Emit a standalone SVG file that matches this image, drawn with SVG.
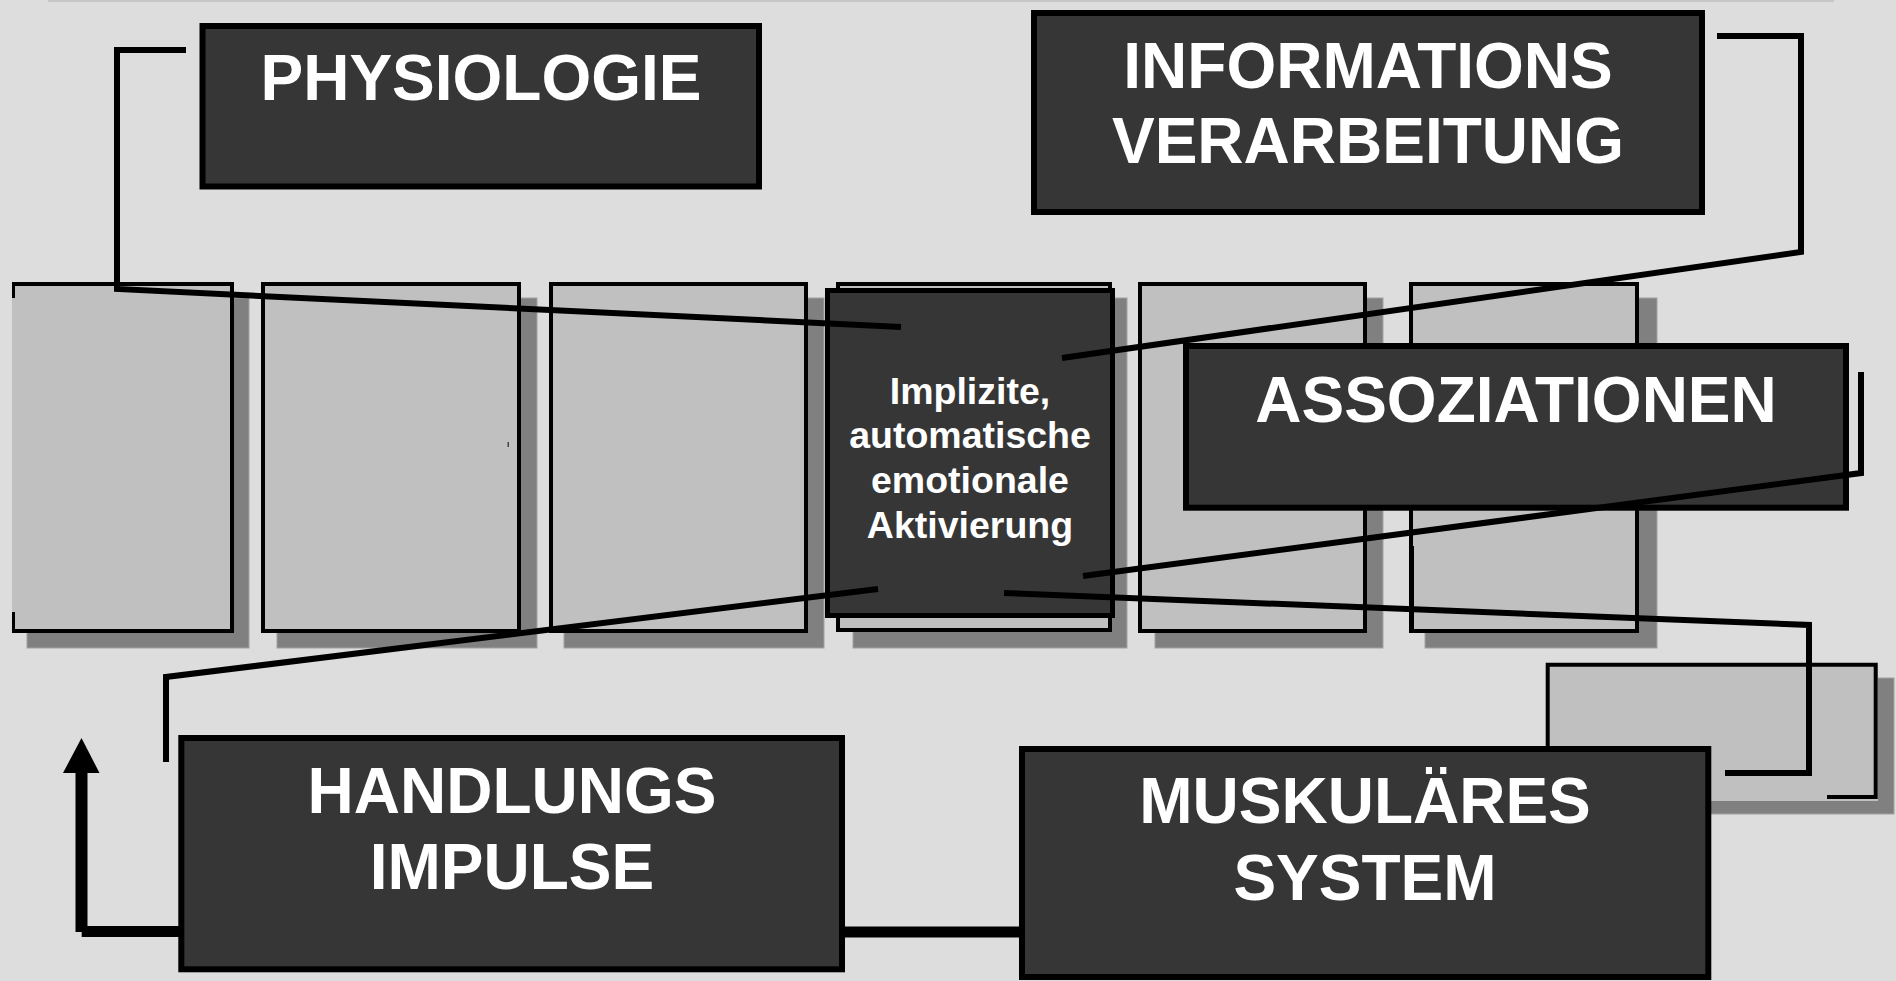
<svg xmlns="http://www.w3.org/2000/svg" width="1896" height="981" viewBox="0 0 1896 981">
<style>
.shadow{fill:#808080;stroke:#a2a2a2;stroke-width:1}
.col{fill:#c0c0c0;stroke:#000;stroke-width:4}
.box{fill:#363636;stroke:#000;stroke-width:6}
.lbl{font-family:"Liberation Sans",Arial,sans-serif;font-weight:bold;fill:#fff;text-anchor:middle}
.big{font-size:64px}
.small{font-size:37.5px}
.conn{fill:none;stroke:#000;stroke-width:6;stroke-linejoin:miter;stroke-linecap:butt}
.thick{fill:none;stroke:#000;stroke-linecap:butt}
</style>
<rect x="0" y="0" width="1896" height="981" fill="#dddddd"/>
<rect x="48" y="0" width="1786" height="2" fill="#c6c6c6"/>

<g id="columns">
  <rect class="shadow" x="27" y="298" width="222" height="350"/>
  <rect class="shadow" x="277" y="298" width="260" height="350"/>
  <rect class="shadow" x="564" y="298" width="260" height="350"/>
  <rect class="shadow" x="853" y="298" width="274" height="350"/>
  <rect class="shadow" x="1155" y="298" width="228" height="350"/>
  <rect class="shadow" x="1425" y="298" width="232" height="350"/>
  <g id="col1">
    <rect x="12" y="282" width="222" height="351" fill="#c0c0c0"/>
    <path d="M12,284 H232 V631 H12" fill="none" stroke="#000" stroke-width="4"/>
    <path d="M13.5,282 V298 M13.5,612 V633" fill="none" stroke="#000" stroke-width="3"/>
  </g>
  <g id="col2">
    <rect class="col" x="263" y="284" width="256" height="347"/>
    <rect x="507.5" y="442" width="1.5" height="5" fill="#444"/>
  </g>
  <rect id="col3" class="col" x="551" y="284" width="255" height="347"/>
  <rect id="col4" class="col" x="838" y="284" width="272" height="346"/>
  <rect id="col5" class="col" x="1140" y="284" width="225" height="347"/>
  <g id="col6">
    <rect class="col" x="1411" y="284" width="226" height="347"/>
    <path d="M1412.5,546 V633" stroke="#000" stroke-width="3"/>
  </g>
</g>

<g id="aktivierung">
  <rect x="827.5" y="290.5" width="285" height="325" fill="#363636" stroke="#000" stroke-width="5"/>
  <text class="lbl small" x="970" y="404">Implizite,</text>
  <text class="lbl small" x="970" y="448">automatische</text>
  <text class="lbl small" x="970" y="493">emotionale</text>
  <text class="lbl small" x="970" y="538">Aktivierung</text>
</g>

<g id="physiologie">
  <rect class="box" x="202.5" y="26" width="556.5" height="160.5"/>
  <text class="lbl big" x="481" y="100">PHYSIOLOGIE</text>
</g>

<g id="informationsverarbeitung">
  <rect class="box" x="1034" y="13" width="668" height="199"/>
  <text class="lbl big" x="1368" y="88">INFORMATIONS</text>
  <text class="lbl big" x="1368" y="163">VERARBEITUNG</text>
</g>

<g id="assoziationen">
  <rect class="box" x="1186" y="346" width="660" height="161.7"/>
  <text class="lbl big" x="1516" y="422">ASSOZIATIONEN</text>
</g>

<g id="lightbox">
  <rect class="shadow" x="1562" y="678" width="332" height="136"/>
  <rect x="1546" y="663" width="332" height="138" fill="#c0c0c0"/>
  <path d="M1547.7,760 V664.7 H1875.7 V797 H1827" fill="none" stroke="#000" stroke-width="4"/>
</g>

<g id="muskulaeres">
  <rect class="box" x="1022" y="749" width="686.3" height="228"/>
  <text class="lbl big" x="1365" y="823">MUSKULÄRES</text>
  <text class="lbl big" x="1365" y="900">SYSTEM</text>
</g>

<g id="handlungsimpulse">
  <rect class="box" x="181.3" y="738" width="660.7" height="231.3"/>
  <text class="lbl big" x="512" y="813">HANDLUNGS</text>
  <text class="lbl big" x="512" y="889">IMPULSE</text>
</g>

<g id="connectors">
  <path class="conn" d="M186,50 H117 V289 L901,327"/>
  <path class="conn" d="M1717,36 H1801 V252 L1062,358"/>
  <path class="conn" d="M1861,372 V473 L1083,576"/>
  <path class="conn" d="M878,589 L166,677 V762"/>
  <path class="conn" d="M1004,593 L1809,625 V773 H1725"/>
  <path class="thick" d="M845,932 H1019" stroke-width="11"/>
  <path class="thick" d="M81.7,931.5 H180" stroke-width="11"/>
  <path class="thick" d="M81.5,932 V770" stroke-width="12"/>
  <polygon points="81.5,738 63,773 99.5,773" fill="#000"/>
</g>
</svg>
